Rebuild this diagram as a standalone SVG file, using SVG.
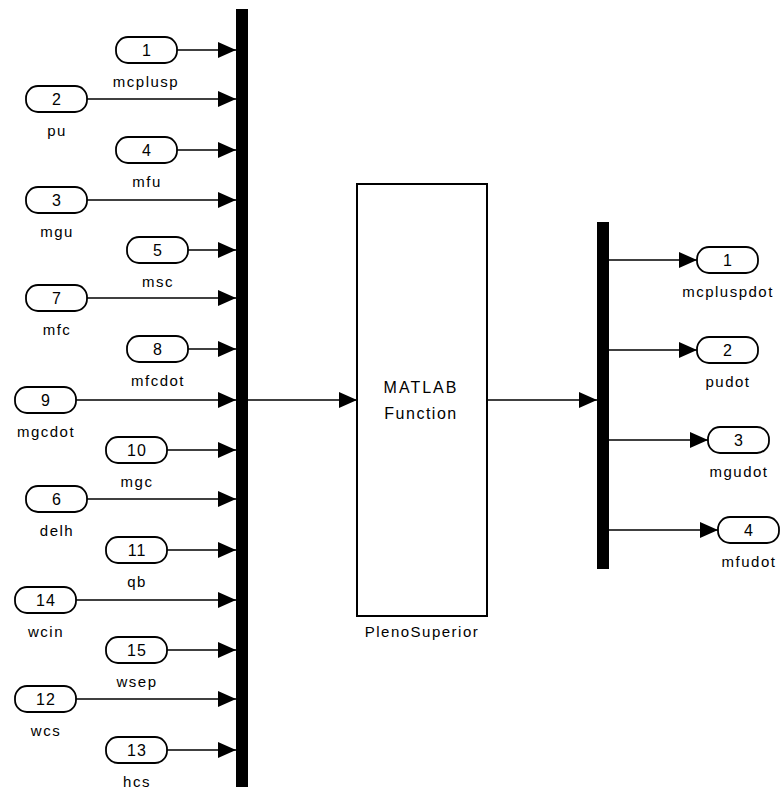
<svg xmlns="http://www.w3.org/2000/svg" width="782" height="789" viewBox="0 0 782 789">
<defs>
<style>
.port{fill:#fff;stroke:#000;stroke-width:1.8}
.num{font-family:"Liberation Sans",Arial,sans-serif;font-size:16px;text-anchor:middle;fill:#000;letter-spacing:1px}
.lbl{font-family:"Liberation Sans",Arial,sans-serif;font-size:15px;text-anchor:middle;fill:#000;letter-spacing:1.5px}
.wire{stroke:#000;stroke-width:1.5;fill:none;marker-end:url(#arr)}
.bar{fill:#000}
.blk{fill:#fff;stroke:#000;stroke-width:2}
</style>
<marker id="arr" viewBox="0 0 18 16" markerWidth="18" markerHeight="16" refX="18" refY="8" orient="auto" markerUnits="userSpaceOnUse">
<path d="M0,0 L18,8 L0,16 z" fill="#000"/>
</marker>
</defs>
<rect width="782" height="789" fill="#fff"/>

<g id="connectors">
<line class="wire" x1="177" y1="50" x2="236" y2="50"/>
<line class="wire" x1="87" y1="99" x2="236" y2="99"/>
<line class="wire" x1="177" y1="150" x2="236" y2="150"/>
<line class="wire" x1="87" y1="200" x2="236" y2="200"/>
<line class="wire" x1="188" y1="250" x2="236" y2="250"/>
<line class="wire" x1="87" y1="298" x2="236" y2="298"/>
<line class="wire" x1="188" y1="349" x2="236" y2="349"/>
<line class="wire" x1="76" y1="400" x2="236" y2="400"/>
<line class="wire" x1="167" y1="450" x2="236" y2="450"/>
<line class="wire" x1="87" y1="499" x2="236" y2="499"/>
<line class="wire" x1="167" y1="550" x2="236" y2="550"/>
<line class="wire" x1="76" y1="600" x2="236" y2="600"/>
<line class="wire" x1="167" y1="650" x2="236" y2="650"/>
<line class="wire" x1="76" y1="699" x2="236" y2="699"/>
<line class="wire" x1="167" y1="750" x2="236" y2="750"/>
<line class="wire" x1="248" y1="400" x2="357" y2="400"/>
<line class="wire" x1="488" y1="400" x2="597" y2="400"/>
<line class="wire" x1="609" y1="260" x2="697" y2="260"/>
<line class="wire" x1="609" y1="350" x2="697" y2="350"/>
<line class="wire" x1="609" y1="440" x2="708" y2="440"/>
<line class="wire" x1="609" y1="530" x2="718" y2="530"/>
</g>

<g id="mux"><rect class="bar" x="236" y="9" width="12" height="778"/></g>
<g id="demux"><rect class="bar" x="597" y="222" width="12" height="347"/></g>

<g id="PlenoSuperior">
<rect class="blk" x="357" y="184" width="130" height="432"/>
<text class="num" x="421" y="393" style="font-size:16px;letter-spacing:2px">MATLAB</text>
<text class="num" x="421" y="419" style="font-size:16px;letter-spacing:1.5px">Function</text>
<text class="lbl" x="422" y="637">PlenoSuperior</text>
</g>

<g id="in1"><rect class="port" x="116" y="37" width="61" height="26" rx="12"/><text class="num" x="147" y="56">1</text><text class="lbl" x="146" y="87">mcplusp</text></g>
<g id="in2"><rect class="port" x="26" y="86" width="61" height="26" rx="12"/><text class="num" x="57" y="105">2</text><text class="lbl" x="57" y="136">pu</text></g>
<g id="in4"><rect class="port" x="116" y="137" width="61" height="26" rx="12"/><text class="num" x="147" y="156">4</text><text class="lbl" x="147" y="187">mfu</text></g>
<g id="in3"><rect class="port" x="26" y="187" width="61" height="26" rx="12"/><text class="num" x="57" y="206">3</text><text class="lbl" x="57" y="237">mgu</text></g>
<g id="in5"><rect class="port" x="127" y="237" width="61" height="26" rx="12"/><text class="num" x="158" y="256">5</text><text class="lbl" x="158" y="287">msc</text></g>
<g id="in7"><rect class="port" x="26" y="285" width="61" height="26" rx="12"/><text class="num" x="57" y="304">7</text><text class="lbl" x="57" y="335">mfc</text></g>
<g id="in8"><rect class="port" x="127" y="336" width="61" height="26" rx="12"/><text class="num" x="158" y="355">8</text><text class="lbl" x="158" y="386">mfcdot</text></g>
<g id="in9"><rect class="port" x="15" y="387" width="61" height="26" rx="12"/><text class="num" x="46" y="406">9</text><text class="lbl" x="46" y="437">mgcdot</text></g>
<g id="in10"><rect class="port" x="106" y="437" width="61" height="26" rx="12"/><text class="num" x="137" y="456">10</text><text class="lbl" x="137" y="487">mgc</text></g>
<g id="in6"><rect class="port" x="26" y="486" width="61" height="26" rx="12"/><text class="num" x="57" y="505">6</text><text class="lbl" x="57" y="536">delh</text></g>
<g id="in11"><rect class="port" x="106" y="537" width="61" height="26" rx="12"/><text class="num" x="137" y="556">11</text><text class="lbl" x="137" y="587">qb</text></g>
<g id="in14"><rect class="port" x="15" y="587" width="61" height="26" rx="12"/><text class="num" x="46" y="606">14</text><text class="lbl" x="46" y="637">wcin</text></g>
<g id="in15"><rect class="port" x="106" y="637" width="61" height="26" rx="12"/><text class="num" x="137" y="656">15</text><text class="lbl" x="137" y="687">wsep</text></g>
<g id="in12"><rect class="port" x="15" y="686" width="61" height="26" rx="12"/><text class="num" x="46" y="705">12</text><text class="lbl" x="46" y="736">wcs</text></g>
<g id="in13"><rect class="port" x="106" y="737" width="61" height="26" rx="12"/><text class="num" x="137" y="756">13</text><text class="lbl" x="137" y="787">hcs</text></g>

<g id="out1"><rect class="port" x="697" y="247" width="61" height="26" rx="12"/><text class="num" x="728" y="266">1</text><text class="lbl" x="728" y="297">mcpluspdot</text></g>
<g id="out2"><rect class="port" x="697" y="337" width="61" height="26" rx="12"/><text class="num" x="728" y="356">2</text><text class="lbl" x="728" y="387">pudot</text></g>
<g id="out3"><rect class="port" x="708" y="427" width="61" height="26" rx="12"/><text class="num" x="739" y="446">3</text><text class="lbl" x="739" y="477">mgudot</text></g>
<g id="out4"><rect class="port" x="718" y="517" width="61" height="26" rx="12"/><text class="num" x="749" y="536">4</text><text class="lbl" x="749" y="567">mfudot</text></g>
</svg>
